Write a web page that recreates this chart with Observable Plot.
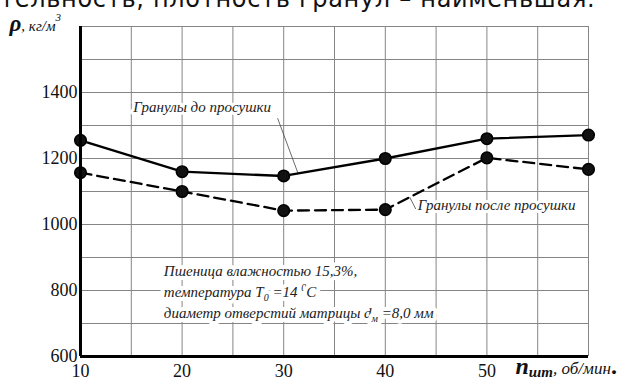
<!DOCTYPE html>
<html><head><meta charset="utf-8">
<script src="https://cdn.jsdelivr.net/npm/d3@7"></script>
<script src="https://cdn.jsdelivr.net/npm/@observablehq/plot@0.6"></script>
<style>
body{margin:0;background:#fff;width:628px;height:381px;overflow:hidden;position:relative}
#title{position:absolute;left:0;top:-16px;font-family:"DejaVu Sans";font-size:24px;letter-spacing:0.7px;white-space:nowrap;color:#111;z-index:2;line-height:30px}
#chart{position:absolute;left:0;top:0}
#chart svg, #chart svg text{font-family:"Liberation Serif","Times New Roman",serif !important}
#chart svg{font-size:18px;color:#111}
</style></head><body>
<div id="title"></div><div id="chart"></div>
<script>
const titleText = "тельность, плотность гранул – наименьшая.";
const speeds = [10, 20, 30, 40, 50, 60];
const densityBefore = [1255, 1160, 1147, 1200, 1260, 1271];
const densityAfter = [1157, 1100, 1042, 1045, 1202, 1167];
const xTicks = [10, 20, 30, 40, 50];
const yTicks = [600, 800, 1000, 1200, 1400];
const xGrid = [10, 15, 20, 25, 30, 35, 40, 45, 50, 55, 60];
const yGrid = [600, 700, 800, 900, 1000, 1100, 1200, 1300, 1400, 1500, 1600];
const yLabelParts = ["ρ", ", кг/м", "3"];
const xLabelParts = ["n", "шт", ", об/мин", "."];
const seriesNames = ["Гранулы до просушки", "Гранулы после просушки"];
const seriesLabelX = [15.2, 43.2];
const seriesLabelY = [1340, 1044];
const leaderX1 = [29.4, 42.4];
const leaderY1 = [1322, 1083];
const leaderX2 = [31.4, 43.0];
const leaderY2 = [1156, 1047];
const noteLines = ["Пшеница влажностью 15,3%,", "температура T_{0} =14 ^{0}C", "диаметр отверстий матрицы d_{м} =8,0 мм"];
const noteX = [18.2, 18.2, 18.2];
const noteY = [844, 780, 717];

document.getElementById("title").textContent = titleText;

const before = speeds.map((s, i) => ({x: s, y: densityBefore[i]}));
const after = speeds.map((s, i) => ({x: s, y: densityAfter[i]}));
const seriesLabels = seriesNames.map((t, i) => ({t, x: seriesLabelX[i], y: seriesLabelY[i]}));
const leaders = leaderX1.map((v, i) => ({x1: v, y1: leaderY1[i], x2: leaderX2[i], y2: leaderY2[i]}));
const notes = noteLines.map((t, i) => ({t, x: noteX[i], y: noteY[i]}));

const serif = "Liberation Serif";
const gridColor = "#858585";
const plot = Plot.plot({
  width: 628, height: 381,
  marginLeft: 80, marginRight: 40, marginTop: 26, marginBottom: 25,
  x: {domain: [10, 60]},
  y: {domain: [600, 1600]},
  marks: [
    Plot.gridX(xGrid, {stroke: gridColor, strokeOpacity: 1, strokeWidth: 1}),
    Plot.gridY(yGrid, {stroke: gridColor, strokeOpacity: 1, strokeWidth: 1}),
    Plot.text(notes, {x: "x", y: "y", text: "t", textAnchor: "start", lineAnchor: "bottom", fontFamily: serif, fontStyle: "italic", fontSize: 15, fill: "#222", stroke: "#fff", strokeWidth: 8, className: "rich"}),
    Plot.text(seriesLabels, {x: "x", y: "y", text: "t", textAnchor: "start", lineAnchor: "bottom", fontFamily: serif, fontStyle: "italic", fontSize: 15, fill: "#222", stroke: "#fff", strokeWidth: 6}),
    Plot.link(leaders, {x1: "x1", y1: "y1", x2: "x2", y2: "y2", stroke: "#444", strokeWidth: 0.8}),
    Plot.line(before, {x: "x", y: "y", stroke: "#000", strokeWidth: 2.3}),
    Plot.line(after, {x: "x", y: "y", stroke: "#000", strokeWidth: 2.3, strokeDasharray: "11,6"}),
    Plot.dot(before, {x: "x", y: "y", r: 5.8, fill: "#111", stroke: "#000"}),
    Plot.dot(after, {x: "x", y: "y", r: 5.8, fill: "#111", stroke: "#000"}),
    Plot.ruleX([10], {stroke: "#000", strokeWidth: 3}),
    Plot.ruleY([600], {stroke: "#000", strokeWidth: 3}),
    Plot.axisX(xTicks, {tickSize: 0, tickPadding: 8, tickFormat: d => String(d), label: null, fill: "#111", fontFamily: serif, fontSize: 18}),
    Plot.axisY(yTicks, {tickSize: 0, tickPadding: 3, tickFormat: d => String(d), label: null, fill: "#111", fontFamily: serif, fontSize: 18}),
    Plot.text([yLabelParts.join("")], {frameAnchor: "top-left", dx: -71, dy: 4, text: d => d, textAnchor: "start", lineAnchor: "bottom", fontFamily: serif, className: "ylab"}),
    Plot.text([xLabelParts.join("")], {frameAnchor: "bottom-right", dx: -73, dy: 17, text: d => d, textAnchor: "start", lineAnchor: "bottom", fontFamily: serif, className: "xlab"})
  ]
});
document.getElementById("chart").appendChild(plot);

const svg = d3.select(plot);
// rich text: _{..} subscript, ^{..} superscript
svg.selectAll("g.rich text").each(function() {
  const s = this.textContent;
  const el = d3.select(this);
  el.text(null);
  const re = /([_^])\{([^}]*)\}/g;
  let last = 0, m, pending = 0;
  while ((m = re.exec(s))) {
    if (m.index > last) el.append("tspan").attr("dy", pending || null).text(s.slice(last, m.index));
    pending = 0;
    const shift = m[1] === "_" ? 4 : -6;
    el.append("tspan").attr("dy", shift).attr("font-size", 10).text(m[2]);
    pending = -shift;
    last = re.lastIndex;
  }
  if (last < s.length) el.append("tspan").attr("dy", pending || null).text(s.slice(last));
});
svg.selectAll("g.ylab text").each(function() {
  const el = d3.select(this);
  el.text(null);
  el.append("tspan").attr("font-size", 23).attr("font-weight", "bold").attr("font-style", "italic").text(yLabelParts[0]);
  el.append("tspan").attr("font-size", 15).attr("font-style", "italic").text(yLabelParts[1]);
  el.append("tspan").attr("font-size", 11).attr("font-style", "italic").attr("dy", -10).text(yLabelParts[2]);
});
svg.selectAll("g.xlab text").each(function() {
  const el = d3.select(this);
  el.text(null);
  el.append("tspan").attr("font-size", 24).attr("font-weight", "bold").attr("font-style", "italic").text(xLabelParts[0]);
  el.append("tspan").attr("font-size", 15).attr("font-weight", "bold").attr("font-style", "italic").attr("dy", 3).text(xLabelParts[1]);
  el.append("tspan").attr("font-size", 17).attr("font-style", "italic").attr("dy", -3).text(xLabelParts[2]);
  el.append("tspan").attr("font-size", 24).attr("font-weight", "bold").text(xLabelParts[3]);
});
</script>
</body></html>
